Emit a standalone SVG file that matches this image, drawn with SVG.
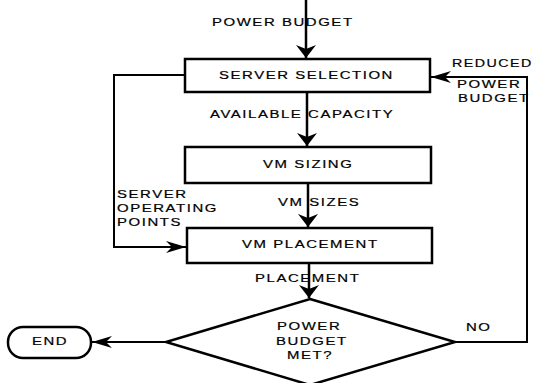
<svg xmlns="http://www.w3.org/2000/svg" width="535" height="383" viewBox="0 0 535 383">
<defs>
<style>
.box{fill:#fff;stroke:#000;stroke-width:2.5}
.ln{fill:none;stroke:#000;stroke-width:2.5}
.lh{fill:none;stroke:#000;stroke-width:2}
.t{font-family:"Liberation Sans",Arial,sans-serif;font-size:11.5px;letter-spacing:1.2px;fill:#000;stroke:#000;stroke-width:0.2}
</style>
<marker id="av" viewBox="0 0 13 20" refX="13" refY="10" markerWidth="13" markerHeight="20" markerUnits="userSpaceOnUse" orient="auto">
<path d="M0,0 L13,10 L0,20 L4,10 Z" fill="#000"/>
</marker>
<marker id="ah" viewBox="0 0 20 12" refX="20" refY="6" markerWidth="20" markerHeight="12" markerUnits="userSpaceOnUse" orient="auto">
<path d="M0,0 L20,6 L0,12 L6,6 Z" fill="#000"/>
</marker>
</defs>
<rect width="535" height="383" fill="#fff"/>
<g id="server-selection">
<rect class="box" x="185" y="59" width="245" height="33"/>
<text class="t" transform="translate(219,79) scale(1.3,1)">SERVER SELECTION</text>
</g>
<g id="vm-sizing">
<rect class="box" x="185" y="147" width="246" height="36"/>
<text class="t" transform="translate(263,168) scale(1.3,1)">VM SIZING</text>
</g>
<g id="vm-placement">
<rect class="box" x="187" y="228" width="245" height="35"/>
<text class="t" transform="translate(242,248) scale(1.3,1)">VM PLACEMENT</text>
</g>
<g id="decision">
<polygon class="box" points="310,299 455,342 310,385 166,342"/>
<text class="t" transform="translate(277,330) scale(1.3,1)">POWER</text>
<text class="t" transform="translate(276,345) scale(1.3,1)">BUDGET</text>
<text class="t" transform="translate(287,359) scale(1.3,1)">MET?</text>
</g>
<g id="end">
<rect class="box" x="8" y="327" width="83" height="31" rx="15" ry="15"/>
<text class="t" transform="translate(32,345) scale(1.3,1)">END</text>
</g>
<g id="connectors">
<text class="t" transform="translate(212,26) scale(1.3,1)">POWER BUDGET</text>
<line class="ln" x1="306" y1="0" x2="306" y2="58" marker-end="url(#av)"/>
<text class="t" transform="translate(210,118) scale(1.3,1)">AVAILABLE CAPACITY</text>
<line class="ln" x1="307" y1="93" x2="307" y2="146" marker-end="url(#av)"/>
<text class="t" transform="translate(278,206) scale(1.3,1)">VM SIZES</text>
<line class="ln" x1="308" y1="184" x2="308" y2="227" marker-end="url(#av)"/>
<text class="t" transform="translate(255,282) scale(1.3,1)">PLACEMENT</text>
<line class="ln" x1="309" y1="264" x2="309" y2="298" marker-end="url(#av)"/>
<line class="lh" x1="166" y1="342" x2="92" y2="342" marker-end="url(#ah)"/>
<text class="t" transform="translate(466,331) scale(1.3,1)">NO</text>
<polyline class="lh" points="455,342 527,342 527,77 431,77" marker-end="url(#ah)"/>
<text class="t" transform="translate(452,67) scale(1.24,1)">REDUCED</text>
<text class="t" transform="translate(457,88) scale(1.3,1)">POWER</text>
<text class="t" transform="translate(458,102) scale(1.3,1)">BUDGET</text>
<polyline class="lh" points="185,75 114,75 114,247 186,247" marker-end="url(#ah)"/>
<text class="t" transform="translate(117,198) scale(1.3,1)">SERVER</text>
<text class="t" transform="translate(117,212) scale(1.3,1)">OPERATING</text>
<text class="t" transform="translate(117,226) scale(1.3,1)">POINTS</text>
</g>
</svg>
